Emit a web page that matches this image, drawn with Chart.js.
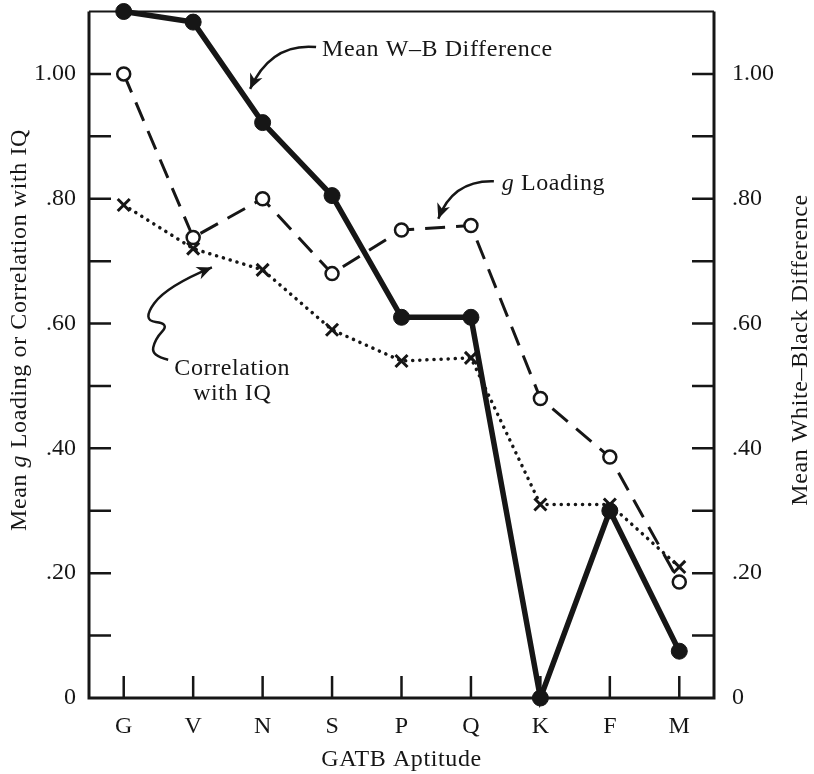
<!DOCTYPE html>
<html>
<head>
<meta charset="utf-8">
<script src="https://cdn.jsdelivr.net/npm/chart.js@4.4.1/dist/chart.umd.min.js"></script>
<style>
  html, body { margin: 0; padding: 0; background: #fff; }
  #wrap { width: 814px; height: 774px; }
</style>
</head>
<body>
<div id="wrap"><canvas id="chart" width="814" height="774"></canvas></div>
<script>
// GATB aptitudes along the x axis
const aptitudes = ['G', 'V', 'N', 'S', 'P', 'Q', 'K', 'F', 'M'];

// Mean white-black difference (right axis)
const meanWBDiff = [1.10, 1.083, 0.922, 0.805, 0.61, 0.61, 0.0, 0.30, 0.075];
// Mean g loading (left axis)
const gLoading = [1.00, 0.738, 0.80, 0.68, 0.75, 0.757, 0.48, 0.386, 0.186];
// Correlation with IQ (left axis)
const corrIQ = [0.79, 0.72, 0.686, 0.59, 0.54, 0.545, 0.31, 0.31, 0.21];

// axis range shared by both value axes
const yMin = 0;
const yMax = 1.10;
const yStep = 0.10;

const FONT = "'Liberation Serif', 'DejaVu Serif', serif";
const INK = '#161616';

function tickLabel(value) {
    const v = Math.round(value * 100) / 100;
    if (Math.round(v * 10) % 2 !== 0) return '';
    if (v === 0) return '0';
    if (v >= 1) return v.toFixed(2);
    return '.' + v.toFixed(2).slice(2);
}

// draws a curved arrow through the given points, head at the last point
function arrowPath(ctx, pts, head) {
    ctx.beginPath();
    ctx.moveTo(pts[0][0], pts[0][1]);
    if (pts.length === 3) {
        ctx.quadraticCurveTo(pts[1][0], pts[1][1], pts[2][0], pts[2][1]);
    } else {
        for (let i = 1; i < pts.length - 1; i++) {
            const mx = (pts[i][0] + pts[i + 1][0]) / 2;
            const my = (pts[i][1] + pts[i + 1][1]) / 2;
            const last = i === pts.length - 2;
            ctx.quadraticCurveTo(pts[i][0], pts[i][1], last ? pts[i + 1][0] : mx, last ? pts[i + 1][1] : my);
        }
    }
    ctx.stroke();
    const end = pts[pts.length - 1];
    const prev = pts[pts.length - 2];
    const a = Math.atan2(end[1] - prev[1], end[0] - prev[0]);
    ctx.save();
    ctx.translate(end[0], end[1]);
    ctx.rotate(a);
    ctx.beginPath();
    ctx.moveTo(0, 0);
    ctx.lineTo(-head, -head * 0.45);
    ctx.lineTo(-head * 0.7, 0);
    ctx.lineTo(-head, head * 0.45);
    ctx.closePath();
    ctx.fill();
    ctx.restore();
}

function drawMixed(ctx, parts, cx, cy) {
    let total = 0;
    parts.forEach(p => { ctx.font = p.font; total += ctx.measureText(p.text).width; });
    let x = cx - total / 2;
    parts.forEach(p => {
        ctx.font = p.font;
        ctx.fillText(p.text, x, cy);
        x += ctx.measureText(p.text).width;
    });
}

const framePlugin = {
    id: 'frame',
    beforeDatasetsDraw(chart) {
        const { ctx, chartArea: a } = chart;
        const xs = chart.scales.x;
        const ys = chart.scales.y;
        ctx.save();
        ctx.strokeStyle = INK;
        ctx.lineCap = 'butt';
        // frame
        ctx.lineWidth = 3;
        ctx.beginPath();
        ctx.moveTo(a.left, a.top);
        ctx.lineTo(a.left, a.bottom);
        ctx.lineTo(a.right, a.bottom);
        ctx.lineTo(a.right, a.top);
        ctx.stroke();
        ctx.lineWidth = 2;
        ctx.beginPath();
        ctx.moveTo(a.left, a.top);
        ctx.lineTo(a.right, a.top);
        ctx.stroke();
        // inward ticks
        ctx.lineWidth = 2.5;
        for (let v = yStep; v < yMax - 0.01; v += yStep) {
            const py = ys.getPixelForValue(v);
            ctx.beginPath();
            ctx.moveTo(a.left, py); ctx.lineTo(a.left + 22, py);
            ctx.moveTo(a.right, py); ctx.lineTo(a.right - 22, py);
            ctx.stroke();
        }
        aptitudes.forEach((c, i) => {
            const px = xs.getPixelForValue(i);
            ctx.beginPath();
            ctx.moveTo(px, a.bottom); ctx.lineTo(px, a.bottom - 22);
            ctx.stroke();
        });
        ctx.restore();
    },
    afterDraw(chart) {
        const { ctx, chartArea: a } = chart;
        const xs = chart.scales.x;
        const ys = chart.scales.y;
        const P = (i, v) => [xs.getPixelForValue(i), ys.getPixelForValue(v)];
        ctx.save();
        ctx.fillStyle = INK;
        ctx.strokeStyle = INK;
        ctx.textBaseline = 'alphabetic';
        ctx.textAlign = 'left';
        ctx.letterSpacing = '0.6px';
        const roman = '24px ' + FONT;
        const italic = 'italic 24px ' + FONT;

        // axis titles
        drawMixed(ctx, [{ text: 'GATB Aptitude', font: roman }], (a.left + a.right) / 2, 766);

        ctx.save();
        ctx.translate(26, 330);
        ctx.rotate(-Math.PI / 2);
        drawMixed(ctx, [
            { text: 'Mean ', font: roman },
            { text: 'g', font: italic },
            { text: ' Loading or Correlation with IQ', font: roman }
        ], 0, 0);
        ctx.restore();

        ctx.save();
        ctx.translate(807, 350);
        ctx.rotate(-Math.PI / 2);
        drawMixed(ctx, [{ text: 'Mean White\u2013Black Difference', font: roman }], 0, 0);
        ctx.restore();

        // annotations
        ctx.font = roman;
        let t = P(2.855, 1.029);
        ctx.fillText('Mean W\u2013B Difference', t[0], t[1]);
        ctx.lineWidth = 2.5;
        arrowPath(ctx, [P(2.77, 1.043), P(2.12, 1.05), P(1.82, 0.976)], 15);

        t = P(5.41, 0.814);
        drawMixed(ctx, [
            { text: 'g', font: italic },
            { text: ' Loading', font: roman }
        ], t[0] + 54, t[1]);
        arrowPath(ctx, [P(5.33, 0.828), P(4.74, 0.83), P(4.53, 0.768)], 15);

        ctx.font = roman;
        ctx.textAlign = 'center';
        t = P(1.5625, 0.518);
        ctx.fillText('Correlation', t[0], t[1]);
        t = P(1.5625, 0.477);
        ctx.fillText('with IQ', t[0], t[1]);
        ctx.textAlign = 'left';
        arrowPath(ctx, [P(0.64, 0.542), P(0.40, 0.548), P(0.45, 0.575), P(0.66, 0.60),
                        P(0.26, 0.605), P(0.62, 0.66), P(1.27, 0.69)], 15);
        ctx.restore();
    }
};

const yTicks = (padding) => ({
    stepSize: yStep,
    autoSkip: false,
    padding: padding,
    color: INK,
    font: { family: FONT, size: 24 },
    callback: tickLabel
});

// keep the plot area flush with the top padding
function fitY(width) {
    return function (scale) {
        scale.width = width;
        scale.paddingTop = 0;
        scale.paddingBottom = 0;
    };
}

new Chart(document.getElementById('chart'), {
    type: 'line',
    data: {
        labels: aptitudes,
        datasets: [
            {
                label: 'Mean W-B Difference',
                data: meanWBDiff,
                yAxisID: 'y2',
                borderColor: INK,
                borderWidth: 5.5,
                pointRadius: 8,
                pointBackgroundColor: INK,
                pointBorderColor: INK,
                pointBorderWidth: 1,
                tension: 0,
                clip: false
            },
            {
                label: 'g Loading',
                data: gLoading,
                yAxisID: 'y',
                borderColor: INK,
                borderWidth: 3,
                borderDash: [20, 11],
                pointRadius: 6.5,
                pointStyle: 'circle',
                pointBackgroundColor: '#fff',
                pointBorderColor: INK,
                pointBorderWidth: 2.5,
                tension: 0,
                clip: false
            },
            {
                label: 'Correlation with IQ',
                data: corrIQ,
                yAxisID: 'y',
                borderColor: INK,
                borderWidth: 3.5,
                borderDash: [0.1, 7],
                borderCapStyle: 'round',
                pointRadius: 8.5,
                pointStyle: 'crossRot',
                pointBorderColor: INK,
                pointBorderWidth: 3,
                tension: 0,
                clip: false
            }
        ]
    },
    options: {
        responsive: false,
        devicePixelRatio: 1,
        animation: false,
        layout: { padding: { top: 10, left: 0, right: 0, bottom: 0 } },
        plugins: { legend: { display: false }, tooltip: { enabled: false } },
        scales: {
            x: {
                type: 'category',
                offset: true,
                grid: { display: false, drawTicks: false },
                border: { display: false },
                ticks: {
                    padding: 14,
                    color: INK,
                    font: { family: FONT, size: 24 },
                    maxRotation: 0
                },
                afterFit(scale) { scale.height = 76; }
            },
            y: {
                position: 'left',
                min: yMin,
                max: yMax,
                grid: { display: false, drawTicks: false },
                border: { display: false },
                ticks: yTicks(13),
                afterFit: fitY(89)
            },
            y2: {
                position: 'right',
                min: yMin,
                max: yMax,
                grid: { display: false, drawTicks: false },
                border: { display: false },
                ticks: yTicks(18),
                afterFit: fitY(100)
            }
        }
    },
    plugins: [framePlugin]
});
</script>
</body>
</html>
